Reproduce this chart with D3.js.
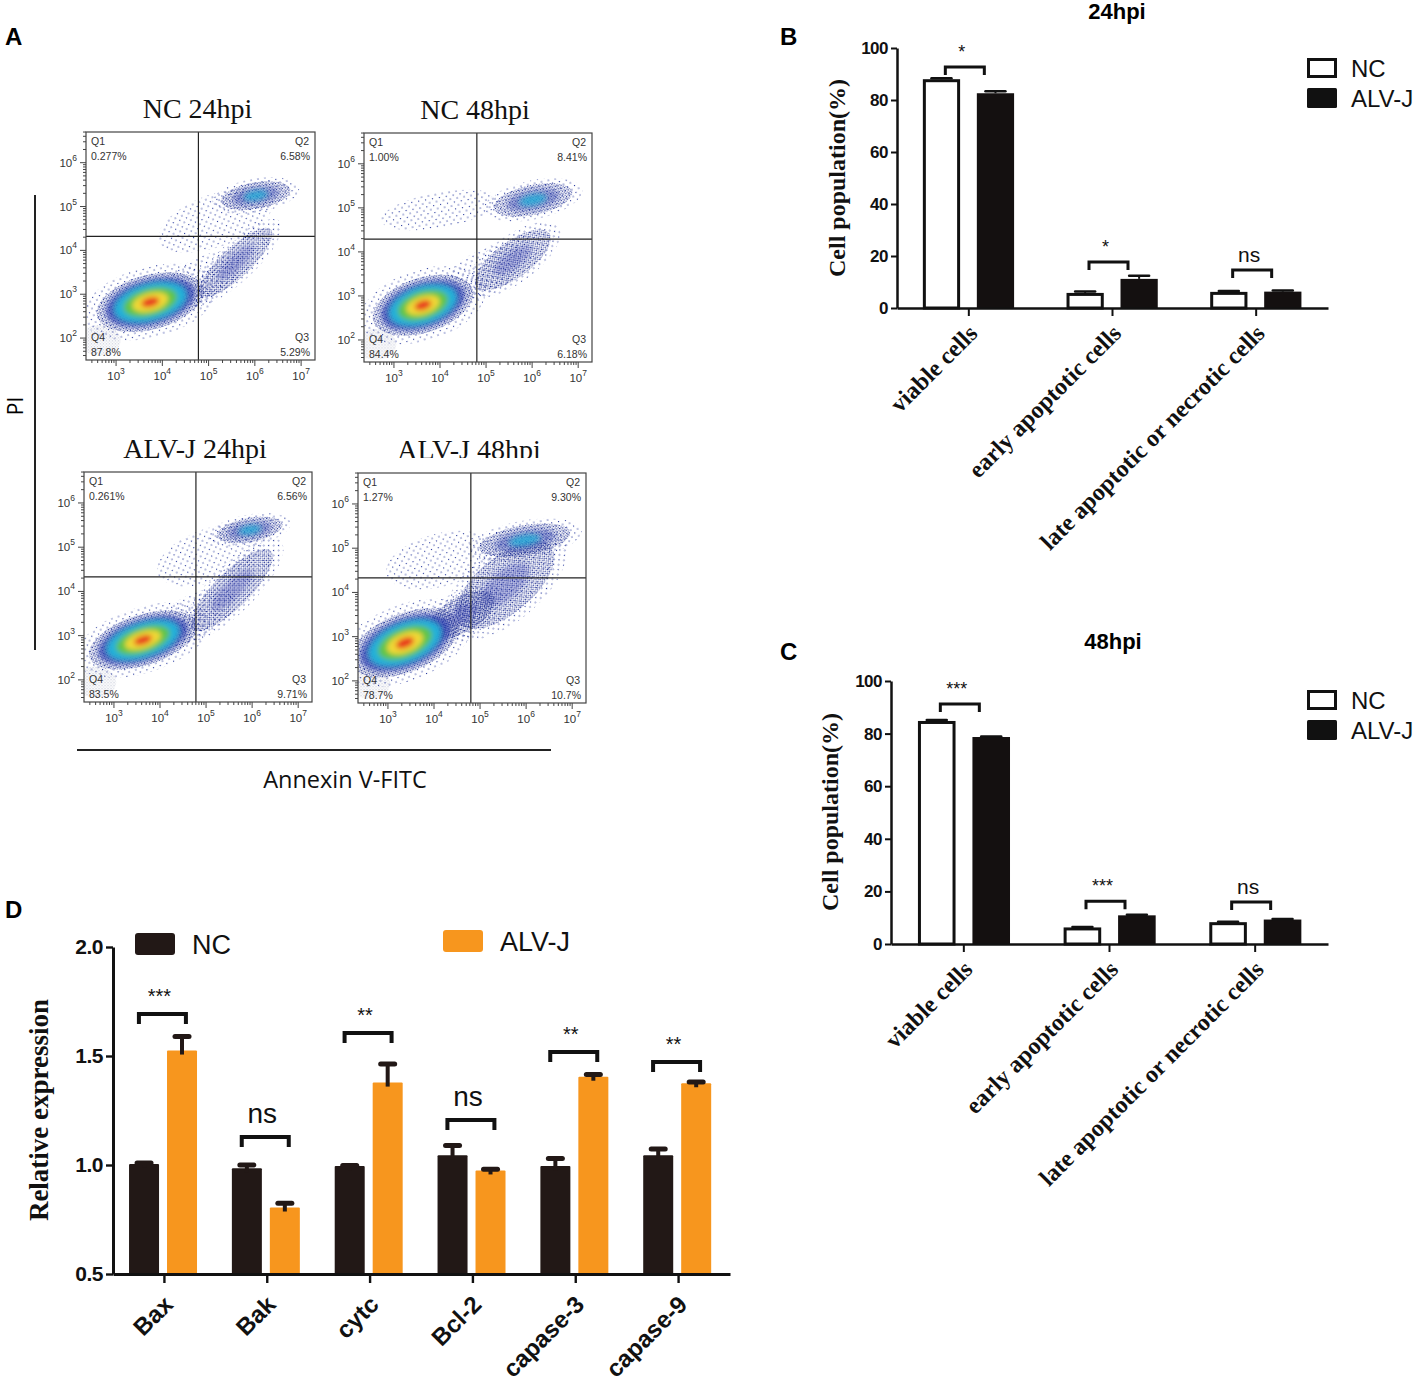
<!DOCTYPE html>
<html><head><meta charset="utf-8">
<script src="https://cdnjs.cloudflare.com/ajax/libs/d3/7.8.5/d3.min.js"></script>
<style>body{margin:0;background:#fff}svg{display:block}</style>
</head><body>
<svg id="fig" width="1417" height="1381"></svg>
<script>
// ================= DATA =================
// Panel A: flow cytometry (Annexin V-FITC vs PI)
const flowTitles = ["NC 24hpi", "NC 48hpi", "ALV-J 24hpi", "ALV-J 48hpi"];
const flowQ1 = ["0.277%", "1.00%", "0.261%", "1.27%"];
const flowQ2 = ["6.58%", "8.41%", "6.56%", "9.30%"];
const flowQ3 = ["5.29%", "6.18%", "9.71%", "10.7%"];
const flowQ4 = ["87.8%", "84.4%", "83.5%", "78.7%"];
const flowGateX = [4.78, 4.80, 4.78, 4.80];   // log10 Annexin gate
const flowGateY = [4.32, 4.29, 4.33, 4.33];   // log10 PI gate
const flowXDecades = [3, 4, 5, 6, 7];
const flowYDecades = [2, 3, 4, 5, 6];
// density populations: [log10 x, log10 y, x radius (decades), y radius (decades), tilt deg, density level]
const flowBlobs = [
  [[2.65,1.95,0.45,0.35,0,-1],[5.15,4.68,1.3,0.6,-20,0],[4.8,3.3,1.0,0.5,-30,0],
   [5.58,3.72,1.05,0.34,-43,1],[6.02,5.25,0.76,0.3,-10,2],[3.74,2.82,1.19,0.62,-15,5]],
  [[2.6,1.9,0.45,0.35,0,-1],[4.0,4.95,1.3,0.4,-10,0],[4.9,3.5,1.0,0.5,-30,0],
   [5.58,3.82,0.98,0.41,-36,1],[6.02,5.18,0.87,0.34,-12,2],[3.63,2.79,1.13,0.62,-18,5]],
  [[2.6,1.95,0.45,0.35,0,-1],[5.08,4.82,1.2,0.6,-20,0],[4.7,3.4,1.0,0.5,-30,0],
   [5.56,4.03,1.2,0.4,-45,1],[5.95,5.39,0.72,0.27,-10,2],[3.63,2.9,1.22,0.57,-18,5]],
  [[2.6,1.95,0.45,0.35,0,-1],[4.13,4.73,1.2,0.6,-15,0],[5.54,4.17,1.3,0.64,-40,1],
   [4.6,3.5,0.8,0.4,-30,1],[5.97,5.18,1.0,0.34,-10,2],[3.37,2.86,1.24,0.66,-22,5]]
];

// Panels B, C: cell populations
const popCategories = ["viable cells", "early apoptotic cells", "late apoptotic or necrotic cells"];
const seriesNames = ["NC", "ALV-J"];
const popTicks = [0, 20, 40, 60, 80, 100];
const pop24NC = [88.0, 5.8, 6.2];
const pop24NCErr = [0.4, 0.5, 0.3];
const pop24ALV = [82.6, 11.2, 6.3];
const pop24ALVErr = [0.8, 1.2, 0.4];
const pop24Sig = ["*", "*", "ns"];
const pop24SigY = [92.7, 17.7, 14.6];
const pop48NC = [84.8, 6.3, 8.3];
const pop48NCErr = [0.4, 0.2, 0.2];
const pop48ALV = [78.7, 10.9, 9.3];
const pop48ALVErr = [0.2, 0.2, 0.2];
const pop48Sig = ["***", "***", "ns"];
const pop48SigY = [91.3, 16.3, 16.0];

// Panel D: relative expression
const genes = ["Bax", "Bak", "cytc", "Bcl-2", "capase-3", "capase-9"];
const exprTicks = [0.5, 1.0, 1.5, 2.0];
const exprNC = [1.005, 0.985, 0.995, 1.045, 0.995, 1.045];
const exprNCErr = [0.004, 0.015, 0.003, 0.045, 0.035, 0.028];
const exprALV = [1.525, 0.805, 1.378, 0.975, 1.405, 1.375];
const exprALVErr = [0.065, 0.02, 0.085, 0.006, 0.01, 0.006];
const exprSig = ["***", "ns", "**", "ns", "**", "**"];
const exprSigY = [1.693, 1.128, 1.605, 1.206, 1.518, 1.472];

// ================= DRAW =================
const SANS = "'Liberation Sans', Arial, Helvetica, sans-serif";
const SERIF = "'Liberation Serif', 'Times New Roman', serif";
const svg = d3.select("#fig");
const defs = svg.append("defs");

function dotPattern(id, size, dots, color) {
  const p = defs.append("pattern").attr("id", id).attr("patternUnits", "userSpaceOnUse")
    .attr("width", size).attr("height", size);
  dots.forEach(([dx, dy]) => p.append("rect").attr("x", dx).attr("y", dy)
    .attr("width", 1.1).attr("height", 1.1).attr("fill", color));
}
dotPattern("dense", 3, [[0, 0], [1.6, 1.7]], "#1c2b8f");
dotPattern("sparse", 7, [[1, 1], [4.5, 4.5]], "#23349c");
dotPattern("grey", 3, [[0, 0], [1.5, 1.5]], "#c8ccd9");
defs.append("filter").attr("id", "blur").attr("x", "-30%").attr("y", "-30%").attr("width", "160%").attr("height", "160%")
  .append("feGaussianBlur").attr("stdDeviation", 2.4);

const ringColors = ["#2a3db0", "#20b1d9", "#5ec44a", "#f0d836", "#e8321f"];

// panel letters
[["A", 5, 45], ["B", 780, 45], ["C", 780, 660], ["D", 5, 918]].forEach(([t, x, y]) =>
  svg.append("text").attr("x", x).attr("y", y).text(t)
    .attr("font-family", SANS).attr("font-weight", "bold").attr("font-size", 24));

// ---------- Panel A ----------
const flowLayout = [
  {x: 86, y: 132, w: 229, h: 228},
  {x: 364, y: 133, w: 228, h: 229},
  {x: 84, y: 472, w: 228, h: 230},
  {x: 358, y: 473, w: 228, h: 230}
];

function drawBlob(g, x, y, b) {
  const [lx, ly, rd, rdy, ang, lvl] = b;
  const cx = x(10 ** lx), cy = y(10 ** ly);
  const rx = x(10 ** (lx + rd)) - cx, ry = cy - y(10 ** (ly + rdy));
  const e = g.append("g").attr("transform", `translate(${cx},${cy}) rotate(${ang})`);
  if (lvl < 0) { e.append("ellipse").attr("rx", rx).attr("ry", ry).attr("fill", "url(#grey)"); return; }
  if (lvl === 0) { e.append("ellipse").attr("rx", rx).attr("ry", ry).attr("fill", "url(#sparse)"); return; }
  e.append("ellipse").attr("rx", rx * 1.25).attr("ry", ry * 1.3).attr("fill", "url(#sparse)");
  e.append("ellipse").attr("rx", rx).attr("ry", ry).attr("fill", "url(#dense)");
  const s = e.append("g").attr("filter", "url(#blur)");
  const firstOp = lvl === 1 ? 0.3 : (lvl === 2 ? 0.45 : 0.75);
  for (let k = 1; k <= lvl; k++) {
    const f = 1 - k / (lvl + 1);
    s.append("ellipse").attr("rx", rx * f).attr("ry", ry * f)
      .attr("fill", ringColors[k - 1]).attr("opacity", k === 1 ? firstOp : (lvl === 2 ? 0.75 : 1));
  }
}

flowTitles.forEach((title, i) => {
  const L = flowLayout[i];
  const x = d3.scaleLog().domain([10 ** 2.35, 10 ** 7.3]).range([L.x, L.x + L.w]);
  const y = d3.scaleLog().domain([10 ** 1.5, 10 ** 6.7]).range([L.y + L.h, L.y]);
  const g = svg.append("g");
  const cid = "fclip" + i;
  defs.append("clipPath").attr("id", cid).append("rect")
    .attr("x", L.x).attr("y", L.y).attr("width", L.w).attr("height", L.h);
  const dens = g.append("g").attr("clip-path", `url(#${cid})`);
  flowBlobs[i].forEach(b => drawBlob(dens, x, y, b));
  // gates
  dens.append("line").attr("x1", x(10 ** flowGateX[i])).attr("x2", x(10 ** flowGateX[i]))
    .attr("y1", L.y).attr("y2", L.y + L.h).attr("stroke", "#222").attr("stroke-width", 1.2);
  dens.append("line").attr("x1", L.x).attr("x2", L.x + L.w)
    .attr("y1", y(10 ** flowGateY[i])).attr("y2", y(10 ** flowGateY[i])).attr("stroke", "#222").attr("stroke-width", 1.2);
  // frame
  g.append("rect").attr("x", L.x).attr("y", L.y).attr("width", L.w).attr("height", L.h)
    .attr("fill", "none").attr("stroke", "#444").attr("stroke-width", 1.2);
  // ticks
  const isMajor = v => Math.abs(Math.log10(v) - Math.round(Math.log10(v))) < 1e-6;
  g.selectAll(null).data(x.ticks()).join("line")
    .attr("x1", d => x(d)).attr("x2", d => x(d))
    .attr("y1", L.y + L.h).attr("y2", d => L.y + L.h + (isMajor(d) ? 6 : 3))
    .attr("stroke", "#444").attr("stroke-width", 1);
  g.selectAll(null).data(y.ticks()).join("line")
    .attr("y1", d => y(d)).attr("y2", d => y(d))
    .attr("x1", L.x).attr("x2", d => L.x - (isMajor(d) ? 6 : 3))
    .attr("stroke", "#444").attr("stroke-width", 1);
  // tick labels
  flowXDecades.forEach(d => {
    const t = g.append("text").attr("x", x(10 ** d)).attr("y", L.y + L.h + 20)
      .attr("text-anchor", "middle").attr("font-family", SANS).attr("font-size", 11.5).attr("fill", "#333");
    t.append("tspan").text("10");
    t.append("tspan").attr("dy", -6).attr("font-size", 8.5).text(d);
  });
  flowYDecades.forEach(d => {
    const t = g.append("text").attr("x", L.x - 9).attr("y", y(10 ** d) + 4)
      .attr("text-anchor", "end").attr("font-family", SANS).attr("font-size", 11.5).attr("fill", "#333");
    t.append("tspan").text("10");
    t.append("tspan").attr("dy", -6).attr("font-size", 8.5).text(d);
  });
  // quadrant labels
  const qs = [
    ["Q1", flowQ1[i], L.x + 5, "start", L.y + 13, L.y + 28],
    ["Q2", flowQ2[i], L.x + L.w - 5, "end", L.y + 13, L.y + 28],
    ["Q4", flowQ4[i], L.x + 5, "start", L.y + L.h - 19, L.y + L.h - 4],
    ["Q3", flowQ3[i], L.x + L.w - 5, "end", L.y + L.h - 19, L.y + L.h - 4]
  ];
  qs.forEach(([q, p, qx, anchor, y1, y2]) => {
    g.append("text").attr("x", anchor === "end" ? qx - 15 : qx).attr("y", y1).text(q)
      .attr("text-anchor", "start").attr("font-family", SANS).attr("font-size", 10.5).attr("fill", "#333");
    g.append("text").attr("x", qx).attr("y", y2).text(p)
      .attr("text-anchor", anchor).attr("font-family", SANS).attr("font-size", 10.5).attr("fill", "#333");
  });
  // title
  const tg = g.append("g");
  if (i === 3) {
    defs.append("clipPath").attr("id", "tclip").append("rect").attr("x", 0).attr("y", 400).attr("width", 700).attr("height", 58);
    tg.attr("clip-path", "url(#tclip)");
  }
  tg.append("text").attr("x", L.x + L.w / 2 - 3).attr("y", L.y - 14).text(title)
    .attr("text-anchor", "middle").attr("font-family", SERIF).attr("font-size", 28).attr("fill", "#111");
});
// axis titles of panel A
svg.append("line").attr("x1", 35).attr("x2", 35).attr("y1", 195).attr("y2", 650).attr("stroke", "#222").attr("stroke-width", 2);
svg.append("line").attr("x1", 77).attr("x2", 551).attr("y1", 750).attr("y2", 750).attr("stroke", "#222").attr("stroke-width", 2);
svg.append("text").attr("transform", "translate(23,406) rotate(-90)").attr("text-anchor", "middle")
  .attr("font-family", "'Open Sans', " + SANS).attr("font-size", 21).text("PI");
svg.append("text").attr("x", 345).attr("y", 788).attr("text-anchor", "middle")
  .attr("font-family", "'Open Sans', " + SANS).attr("font-size", 23.5).attr("fill", "#111").text("Annexin V-FITC");

// ---------- Bar panel helper ----------
function barPanel(o) {
  const g = svg.append("g");
  const x = d3.scaleBand().domain(o.cats).range([o.x0, o.x1]);
  const bw = x.bandwidth();
  const xi = d3.scaleBand().domain(seriesNames).range([bw * o.inner[0], bw * o.inner[1]]).paddingInner(o.pad);
  const y = d3.scaleLinear().domain(o.domain).range([o.yBase, o.yTop]);
  const sw = o.barStroke;
  // bars
  o.values.forEach((vals, si) => {
    const name = seriesNames[si];
    const st = o.barStyle[si];
    g.selectAll(null).data(vals).join("rect")
      .attr("x", (d, i) => x(o.cats[i]) + xi(name) + (st.stroke ? sw / 2 : 0))
      .attr("width", xi.bandwidth() - (st.stroke ? sw : 0))
      .attr("y", d => y(d) + (st.stroke ? sw / 2 : 0))
      .attr("height", d => o.yBase - y(d) - (st.stroke ? sw / 2 : 0))
      .attr("fill", st.fill).attr("stroke", st.stroke || "none").attr("stroke-width", sw)
      .attr("rx", o.barRound || 0);
  });
  // error bars
  o.values.forEach((vals, si) => {
    const name = seriesNames[si];
    const errs = o.errs[si];
    const cxv = i => x(o.cats[i]) + xi(name) + xi.bandwidth() / 2;
    g.selectAll(null).data(vals).join("line")
      .attr("x1", (d, i) => cxv(i)).attr("x2", (d, i) => cxv(i))
      .attr("y1", d => y(d) + o.errDown).attr("y2", (d, i) => y(d + errs[i]))
      .attr("stroke", o.errColor).attr("stroke-width", o.errWidth);
    g.selectAll(null).data(vals).join("line")
      .attr("x1", (d, i) => cxv(i) - o.capHalf).attr("x2", (d, i) => cxv(i) + o.capHalf)
      .attr("y1", (d, i) => y(d + errs[i])).attr("y2", (d, i) => y(d + errs[i]))
      .attr("stroke", o.errColor).attr("stroke-width", o.capWidth).attr("stroke-linecap", "round");
  });
  // y axis
  const ya = g.append("g").attr("transform", `translate(${o.x0},0)`)
    .call(d3.axisLeft(y).tickValues(o.ticks).tickSize(o.tickLen).tickSizeOuter(0).tickPadding(o.tickPad).tickFormat(o.fmt));
  ya.select(".domain").attr("stroke-width", o.axisWidth).attr("stroke", "#111");
  ya.selectAll(".tick line").attr("stroke-width", o.axisWidth * 0.8).attr("stroke", "#111");
  ya.selectAll(".tick text").attr("font-family", SANS).attr("font-weight", "bold")
    .attr("font-size", o.tickFont).attr("fill", "#111").attr("letter-spacing", -0.5);
  // x axis
  const xa = g.append("g").attr("transform", `translate(0,${o.yBase})`)
    .call(d3.axisBottom(x).tickSize(o.xTickLen).tickSizeOuter(0).tickFormat(""));
  xa.select(".domain").attr("stroke-width", o.axisWidth).attr("stroke", "#111");
  xa.selectAll(".tick line").attr("stroke-width", o.axisWidth * 0.8).attr("stroke", "#111");
  // category labels
  g.selectAll(null).data(o.cats).join("text")
    .attr("transform", d => `translate(${x(d) + bw / 2 + o.lblDx},${o.yBase + o.lblDy}) rotate(-45)`)
    .attr("text-anchor", "end").attr("font-family", o.lblFamily).attr("font-weight", o.lblWeight)
    .attr("font-size", o.lblFont).attr("fill", "#111").text(d => d);
  // y label
  g.append("text").attr("transform", `translate(${o.ylx},${o.yly}) rotate(-90)`)
    .attr("text-anchor", "middle").attr("font-family", SERIF).attr("font-weight", "bold")
    .attr("font-size", o.ylFont).attr("fill", "#111").text(o.ylabel);
  // significance
  o.cats.forEach((c, i) => {
    const xc = x(c) + bw / 2 + o.brOff;
    const yb = y(o.sigY[i]);
    g.append("path").attr("d", `M${xc - o.brHalf},${yb + o.brLeg}V${yb}H${xc + o.brHalf}V${yb + o.brLeg}`)
      .attr("fill", "none").attr("stroke", "#111").attr("stroke-width", o.brWidth);
    const ns = o.sig[i] === "ns";
    g.append("text").attr("x", xc - 3).attr("y", yb - (ns ? o.nsOff : o.starOff))
      .attr("text-anchor", "middle").attr("font-family", SANS)
      .attr("font-size", ns ? o.nsFont : o.starFont).attr("fill", "#111").text(o.sig[i]);
  });
  return g;
}

function popLegend(x0, y0) {
  svg.append("rect").attr("x", x0 + 1.5).attr("y", y0 + 1.5).attr("width", 27).attr("height", 17)
    .attr("fill", "#fff").attr("stroke", "#111").attr("stroke-width", 3);
  svg.append("rect").attr("x", x0).attr("y", y0 + 30).attr("width", 30).attr("height", 20).attr("fill", "#111").attr("rx", 1.5);
  seriesNames.forEach((n, i) => svg.append("text").attr("x", x0 + 44).attr("y", y0 + 19 + i * 30).text(n)
    .attr("font-family", SANS).attr("font-size", 24).attr("fill", "#111"));
}

const popCommon = {
  cats: popCategories, domain: [0, 100], ticks: popTicks, fmt: d3.format("d"),
  pad: 0.31, barStroke: 3,
  barStyle: [{fill: "#fff", stroke: "#111"}, {fill: "#141010"}],
  errDown: 0, errColor: "#111", errWidth: 2, capHalf: 10, capWidth: 2.5,
  tickLen: 6, tickPad: 3, tickFont: 17, axisWidth: 2.5, xTickLen: 8,
  lblDx: 10, lblDy: 27, lblFamily: SERIF, lblWeight: "bold", lblFont: 24,
  ylabel: "Cell population(%)", ylFont: 24,
  brOff: -4, brHalf: 19.5, brLeg: 8, brWidth: 3,
  starFont: 18, nsFont: 21, starOff: 9, nsOff: 8
};

// ---------- Panel B ----------
svg.append("text").attr("x", 1117).attr("y", 19).attr("text-anchor", "middle").attr("font-family", SANS)
  .attr("font-weight", "bold").attr("font-size", 22).text("24hpi");
barPanel(Object.assign({}, popCommon, {
  x0: 897, x1: 1328, yBase: 308, yTop: 48, inner: [0.18, 0.815],
  values: [pop24NC, pop24ALV], errs: [pop24NCErr, pop24ALVErr],
  sig: pop24Sig, sigY: pop24SigY, ylx: 845, yly: 178
}));
popLegend(1307, 58);

// ---------- Panel C ----------
svg.append("text").attr("x", 1113).attr("y", 649).attr("text-anchor", "middle").attr("font-family", SANS)
  .attr("font-weight", "bold").attr("font-size", 22).text("48hpi");
barPanel(Object.assign({}, popCommon, {
  x0: 891, x1: 1328, yBase: 944, yTop: 681, inner: [0.185, 0.817],
  values: [pop48NC, pop48ALV], errs: [pop48NCErr, pop48ALVErr],
  sig: pop48Sig, sigY: pop48SigY, ylx: 838, yly: 812
}));
popLegend(1307, 690);

// ---------- Panel D ----------
barPanel({
  cats: genes, domain: [0.5, 2.0], ticks: exprTicks, fmt: d3.format(".1f"),
  x0: 113, x1: 730, yBase: 1274, yTop: 947, inner: [0.156, 0.817], pad: 0.21,
  values: [exprNC, exprALV], errs: [exprNCErr, exprALVErr],
  barStroke: 0, barStyle: [{fill: "#221816"}, {fill: "#f7961e"}], barRound: 1,
  errDown: 4, errColor: "#221816", errWidth: 4, capHalf: 7, capWidth: 5,
  tickLen: 7, tickPad: 3, tickFont: 21, axisWidth: 3, xTickLen: 9,
  lblDx: 10, lblDy: 32, lblFamily: SANS, lblWeight: "bold", lblFont: 24,
  ylabel: "Relative expression", ylFont: 27, ylx: 48, yly: 1110,
  sig: exprSig, sigY: exprSigY,
  brOff: -2, brHalf: 23.5, brLeg: 10, brWidth: 4,
  starFont: 20, nsFont: 28, starOff: 11, nsOff: 14
});
// legend D
svg.append("rect").attr("x", 135).attr("y", 933).attr("width", 40).attr("height", 22).attr("rx", 3).attr("fill", "#221816");
svg.append("text").attr("x", 192).attr("y", 954).text(seriesNames[0]).attr("font-family", SANS).attr("font-size", 27).attr("fill", "#111");
svg.append("rect").attr("x", 443).attr("y", 930).attr("width", 40).attr("height", 22).attr("rx", 3).attr("fill", "#f7961e");
svg.append("text").attr("x", 500).attr("y", 951).text(seriesNames[1]).attr("font-family", SANS).attr("font-size", 27).attr("fill", "#111");
</script>
</body></html>
